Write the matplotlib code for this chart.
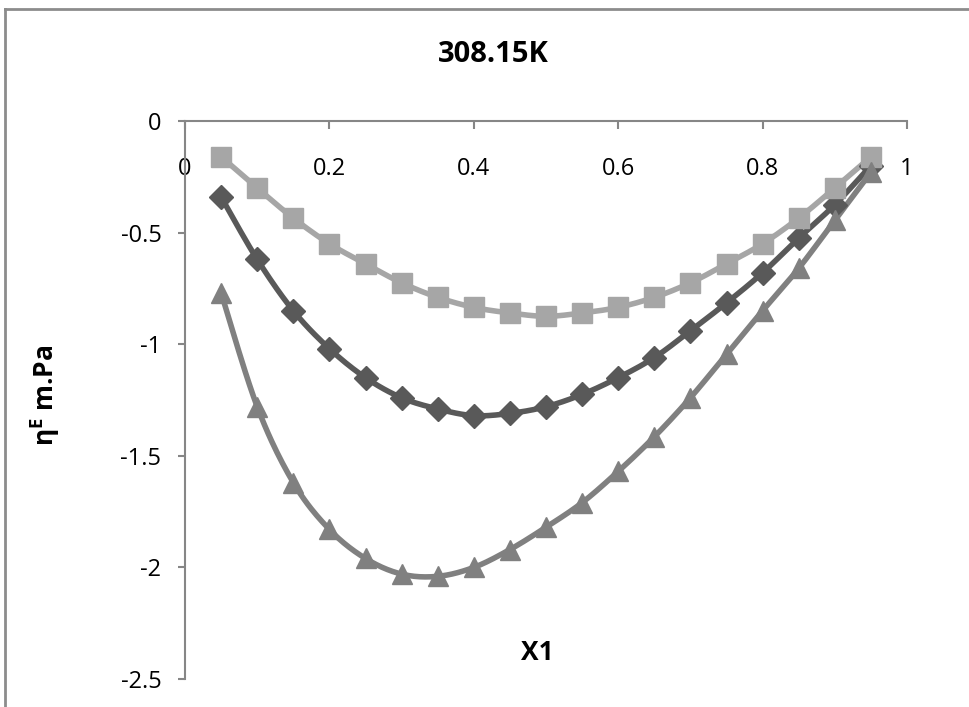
import numpy as np
import matplotlib
matplotlib.use("Agg")
import matplotlib.pyplot as plt
from matplotlib.lines import Line2D

# data
x1 = [0.05, 0.10, 0.15, 0.20, 0.25, 0.30, 0.35, 0.40, 0.45, 0.50,
      0.55, 0.60, 0.65, 0.70, 0.75, 0.80, 0.85, 0.90, 0.95]
eta_diamond = [-0.34, -0.62, -0.85, -1.02, -1.15, -1.24, -1.29, -1.32, -1.31, -1.28,
               -1.225, -1.15, -1.06, -0.94, -0.815, -0.68, -0.525, -0.375, -0.20]
eta_square = [-0.16, -0.30, -0.435, -0.55, -0.64, -0.725, -0.79, -0.835, -0.86, -0.875,
              -0.86, -0.835, -0.79, -0.725, -0.64, -0.55, -0.435, -0.30, -0.16]
eta_triangle = [-0.77, -1.28, -1.62, -1.83, -1.96, -2.03, -2.04, -2.00, -1.92, -1.82,
                -1.71, -1.57, -1.415, -1.24, -1.045, -0.85, -0.66, -0.445, -0.23]

xticks = [0, 0.2, 0.4, 0.6, 0.8, 1]
yticks = [0, -0.5, -1, -1.5, -2, -2.5]


def smooth(xs, ys, n=20):
    # catmull-rom curve through the points, like excel's smoothed line
    p = np.column_stack([xs, ys])
    p = np.vstack([p[0], p, p[-1]])
    out = []
    t = np.linspace(0, 1, n, endpoint=False)[:, None]
    for i in range(1, len(p) - 2):
        p0, p1, p2, p3 = p[i - 1], p[i], p[i + 1], p[i + 2]
        seg = 0.5 * ((2 * p1) + (-p0 + p2) * t + (2 * p0 - 5 * p1 + 4 * p2 - p3) * t ** 2
                     + (-p0 + 3 * p1 - 3 * p2 + p3) * t ** 3)
        out.append(seg)
    out.append(p[-2][None, :])
    out = np.vstack(out)
    return out[:, 0], out[:, 1]


plt.rcParams['font.family'] = ['Open Sans', 'DejaVu Sans']
plt.rcParams['mathtext.fontset'] = 'custom'
plt.rcParams['mathtext.bf'] = 'Open Sans:bold'
plt.rcParams['mathtext.rm'] = 'Open Sans'

fig = plt.figure(figsize=(9.69, 7.07), dpi=100)
ax = fig.add_axes([185 / 969, 1 - 679 / 707, 722 / 969, 558 / 707])

series = [
    (eta_diamond, '#595959', 'D', 12),
    (eta_square, '#a6a6a6', 's', 15),
    (eta_triangle, '#808080', '^', 15),
]
for ys, col, mk, ms in series:
    sx, sy = smooth(x1, ys)
    ax.plot(sx, sy, color=col, lw=4, solid_capstyle='round', zorder=2)
    ax.plot(x1, ys, ls='none', marker=mk, ms=ms, color=col, mec=col, zorder=3)

ax.set_xlim(0, 1)
ax.set_ylim(-2.5, 0)
ax.set_xticks(xticks)
ax.set_xticklabels(['0', '0.2', '0.4', '0.6', '0.8', '1'])
ax.set_yticks(yticks)
ax.set_yticklabels(['0', '-0.5', '-1', '-1.5', '-2', '-2.5'])

for s in ['top', 'right']:
    ax.spines[s].set_visible(False)
ax.spines['bottom'].set_position(('data', 0))
for s in ['bottom', 'left']:
    ax.spines[s].set_color('#868686')
    ax.spines[s].set_linewidth(1.5)
ax.tick_params(axis='x', direction='out', length=6, width=1.5, color='#868686',
               pad=20, labelsize=17)
ax.tick_params(axis='y', direction='out', length=5, width=1.5, color='#868686',
               pad=12, labelsize=17)
for ln in ax.lines:
    ln.set_clip_on(False)

fig.text(493 / 969, 1 - 55 / 707, '308.15K', ha='center', va='center',
         fontsize=21, fontweight='bold')
fig.text(45 / 969, 1 - 395 / 707, r'η$^{\mathbf{E}}$ m.Pa', ha='center', va='center',
         rotation=90, fontsize=19, fontweight='bold')
fig.text(537 / 969, 1 - 652 / 707, 'X1', ha='center', va='center',
         fontsize=19, fontweight='bold')

# chart border
fig.add_artist(Line2D([5 / 969, 5 / 969], [0, 1 - 9 / 707], transform=fig.transFigure,
                      color='#8c8c8c', lw=2))
fig.add_artist(Line2D([5 / 969, 1], [1 - 9 / 707, 1 - 9 / 707], transform=fig.transFigure,
                      color='#8c8c8c', lw=2))

fig.savefig('out.png', dpi=100)
